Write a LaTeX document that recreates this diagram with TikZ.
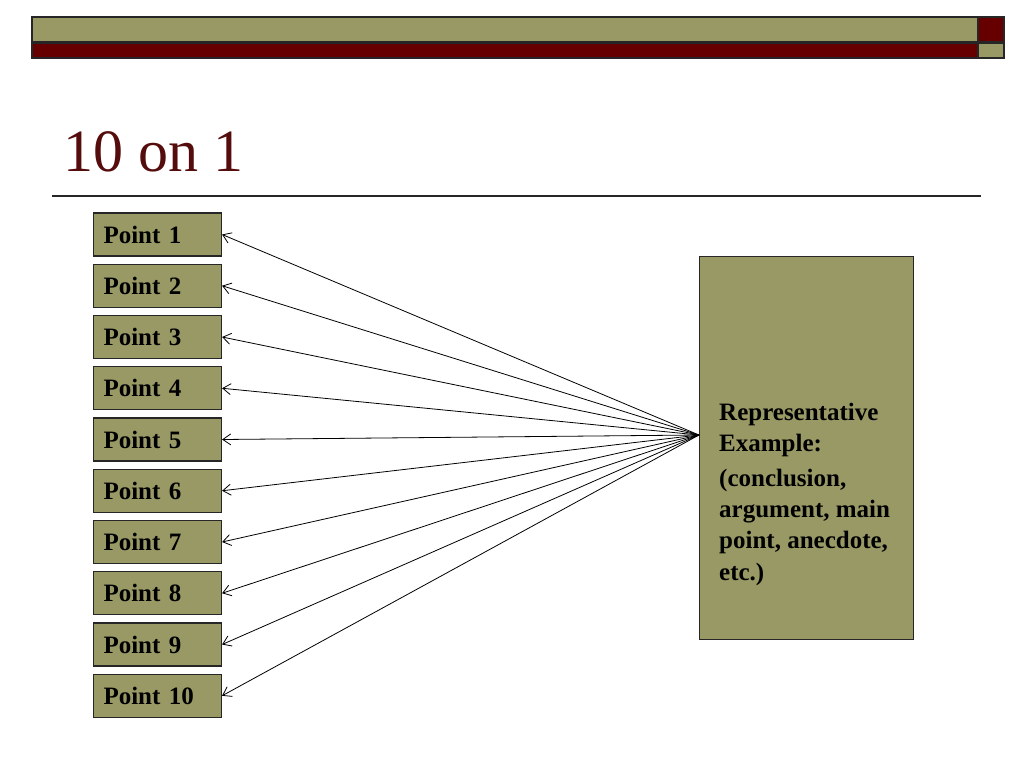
\documentclass[tikz,border=0pt]{standalone}
\usepackage{fontspec}
\setmainfont{Liberation Serif}
\usepackage{tikz}
\usetikzlibrary{arrows.meta}
\definecolor{olive}{RGB}{153,153,102}
\definecolor{maroon}{RGB}{102,0,0}
\definecolor{titlered}{RGB}{85,12,12}

\begin{document}
\begin{tikzpicture}[
  x=1pt, y=-1pt,
  bar/.style={draw=black!85, line width=1.2pt},
  pointbox/.style={draw=black!85, fill=olive, line width=1.2pt,
    minimum width=128pt, minimum height=43pt, text width=108pt,
    inner xsep=10pt, align=left,
    font=\fontsize{25}{30}\selectfont\bfseries},
  examplebox/.style={draw=black!85, fill=olive, line width=1pt,
    minimum width=214pt, minimum height=383pt},
  pointer/.style={{Straight Barb[length=8pt,width=11pt]}-, line width=0.8pt},
]
\useasboundingbox (0,0) rectangle (1024,768);
% banner
\filldraw[bar, fill=olive] (32,17) rectangle (978,42);
\filldraw[bar, fill=maroon] (978,17) rectangle (1004,42);
\filldraw[bar, fill=maroon] (32,43) rectangle (978,58);
\filldraw[bar, fill=olive] (978,43) rectangle (1004,58);
\node[anchor=base west, inner sep=0pt, text=titlered,
  font=\fontsize{60}{68}\selectfont] (title) at (63,171) {10 on 1};
\draw[line width=1.2pt, black!85] (52,196) -- (981,196);

\foreach[evaluate=\k as \ypos using {234.5+(\k-1)*51.25}] \k in {1,...,10}
  \node[pointbox] (p\k) at (157.5,\ypos) {Point \k};

\node[examplebox] (ex) at (806,447.5) {};
\node[anchor=base west, inner sep=0pt, align=left,
  font=\fontsize{25}{31.2}\selectfont\bfseries] (extext) at (719,580)
  {Representative\\Example:\\[3.5pt](conclusion,\\argument, main\\point, anecdote,\\etc.)};
\coordinate (hub) at (699,435);

\foreach \k in {1,...,10}
  \draw[pointer] (p\k.east) -- (hub);
\end{tikzpicture}
\end{document}
